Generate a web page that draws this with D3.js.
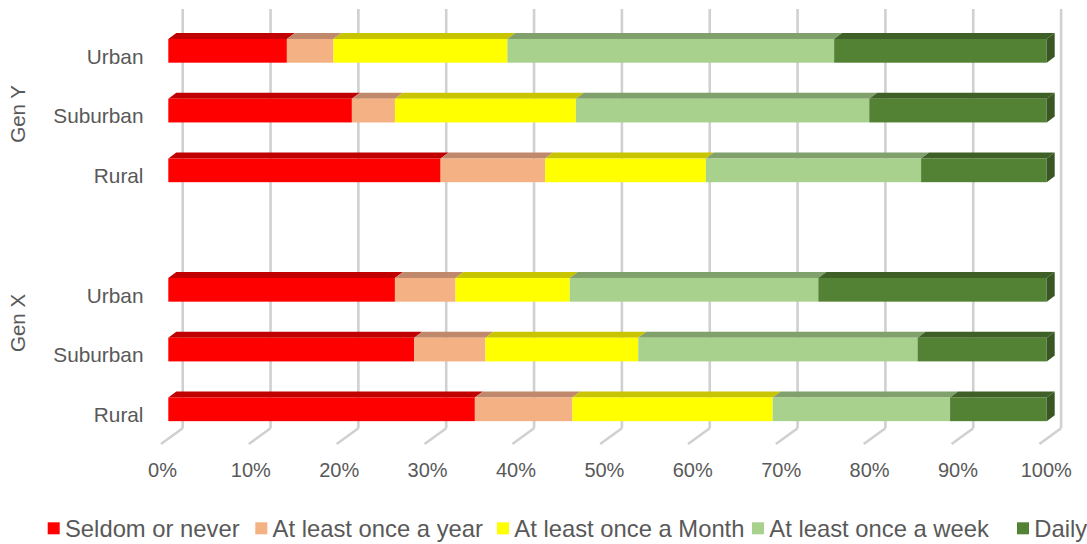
<!DOCTYPE html>
<html>
<head>
<meta charset="utf-8">
<script src="https://cdn.jsdelivr.net/npm/d3@7"></script>
<style>
  html, body { margin: 0; padding: 0; background: #fff; }
  svg { display: block; font-family: "Liberation Sans", Arial, sans-serif; }
</style>
</head>
<body>
<svg id="chart" width="1087" height="544"></svg>
<script>
// ---- data (top to bottom rows; "" is the blank spacer row) ----
const rowKeys   = ["Y-Urban", "Y-Suburban", "Y-Rural", "X-blank", "X-Urban", "X-Suburban", "X-Rural"];
const rowLabels = ["Urban", "Suburban", "Rural", "", "Urban", "Suburban", "Rural"];
const groups = [
  { name: "Gen Y", rows: ["Y-Urban", "Y-Suburban", "Y-Rural"] },
  { name: "Gen X", rows: ["X-blank", "X-Urban", "X-Suburban", "X-Rural"] }
];
const seriesNames = ["Seldom or never", "At least once a year", "At least once a Month", "At least once a week", "Daily"];
const seldom  = [13.5, 20.9, 31.0, null, 25.8, 28.0, 34.9];
const yearly  = [5.3,  4.9,  11.9, null, 6.9,  8.1,  11.1];
const monthly = [19.8, 20.6, 18.3, null, 13.0, 17.4, 22.8];
const weekly  = [37.2, 33.4, 24.5, null, 28.3, 31.8, 20.2];
const daily   = [24.2, 20.2, 14.3, null, 26.0, 14.7, 11.0];
const tickValues = [0, 10, 20, 30, 40, 50, 60, 70, 80, 90, 100];

const frontColors = ["#FF0000", "#F4B183", "#FFFF00", "#A9D18E", "#548235"];
const topColors   = ["#C00000", "#C0896B", "#C8C400", "#80A06C", "#3E6027"];
const sideColor   = "#385723";

const svg = d3.select("#chart");
const seriesValues = [seldom, yearly, monthly, weekly, daily];

// scales
const x      = d3.scaleLinear().domain([0, 100]).range([168.3, 1046.7]);   // bar front face
const xBack  = d3.scaleLinear().domain([0, 100]).range([182.7, 1061.1]);   // back wall gridlines
const xLabel = d3.scaleLinear().domain([0, 100]).range([162.5, 1046.3]);   // tick labels
const y = d3.scalePoint().domain(rowKeys).range([50.85, 409.3]);
const barH = 23.7, dx = 8, dy = -6;
const wallTop = 9, wallBottom = 428.3, floorDx = -21.7, floorDy = 15.7;

// gridlines (back wall + floor)
const grid = svg.append("g");
grid.selectAll("line.v").data(tickValues).join("line")
  .attr("x1", d => xBack(d)).attr("x2", d => xBack(d))
  .attr("y1", wallTop).attr("y2", wallBottom)
  .attr("stroke", "#D0D0D0").attr("stroke-width", 2.6);
grid.selectAll("line.f").data(tickValues).join("line")
  .attr("x1", d => xBack(d)).attr("y1", wallBottom)
  .attr("x2", d => xBack(d) + floorDx).attr("y2", wallBottom + floorDy)
  .attr("stroke", "#D0D0D0").attr("stroke-width", 2.6);

// stacked bars
const rows = rowKeys.map((k, i) => {
  let acc = 0;
  const segs = [];
  if (seldom[i] == null) return { key: k, segs };
  const total = seriesValues.reduce((s, arr) => s + arr[i], 0);
  seriesValues.forEach((arr, si) => {
    const v = arr[i] / total * 100;
    segs.push({ si, x0: acc, x1: acc + v });
    acc += v;
  });
  return { key: k, segs };
});

const bars = svg.append("g");
rows.forEach(r => {
  const yTop = y(r.key) - barH / 2;
  const g = bars.append("g");
  g.selectAll("path.top").data(r.segs).join("path")
    .attr("d", s => {
      const a = x(s.x0), b = x(s.x1);
      return `M${a},${yTop}L${a + dx},${yTop + dy}L${b + dx},${yTop + dy}L${b},${yTop}Z`;
    })
    .attr("fill", s => topColors[s.si]);
  g.selectAll("rect.front").data(r.segs).join("rect")
    .attr("x", s => x(s.x0)).attr("y", yTop)
    .attr("width", s => x(s.x1) - x(s.x0)).attr("height", barH)
    .attr("fill", s => frontColors[s.si]);
  if (r.segs.length) {
    const e = x(r.segs[r.segs.length - 1].x1);
    g.append("path")
      .attr("d", `M${e},${yTop}L${e + dx},${yTop + dy}L${e + dx},${yTop + dy + barH}L${e},${yTop + barH}Z`)
      .attr("fill", sideColor);
  }
});

// tick labels
svg.append("g").selectAll("text").data(tickValues).join("text")
  .attr("x", d => xLabel(d)).attr("y", 477)
  .attr("text-anchor", "middle")
  .attr("font-size", 20).attr("fill", "#595959")
  .text(d => d + "%");

// category labels
svg.append("g").selectAll("text").data(rowKeys).join("text")
  .attr("x", 143.5).attr("y", d => y(d) + 12.7)
  .attr("text-anchor", "end")
  .attr("font-size", 20.8).attr("fill", "#595959")
  .text((d, i) => rowLabels[i]);

// group labels
svg.append("g").selectAll("text").data(groups).join("text")
  .attr("transform", g => {
    const c = d3.mean(g.rows, k => y(k)) + 3.3;
    return `translate(24.5,${c}) rotate(-90)`;
  })
  .attr("text-anchor", "middle")
  .attr("font-size", 20.5).attr("fill", "#595959")
  .text(g => g.name);

// legend
const legendX = [47.7, 255.3, 497, 752, 1017];
const lg = svg.append("g").selectAll("g").data(seriesNames).join("g")
  .attr("transform", (d, i) => `translate(${legendX[i]},522.3)`);
lg.append("rect").attr("width", 12).attr("height", 12)
  .attr("fill", (d, i) => frontColors[i]);
lg.append("text").attr("x", 17.3).attr("y", 14.8)
  .attr("font-size", 23.8).attr("fill", "#595959")
  .text(d => d);
</script>
</body>
</html>
